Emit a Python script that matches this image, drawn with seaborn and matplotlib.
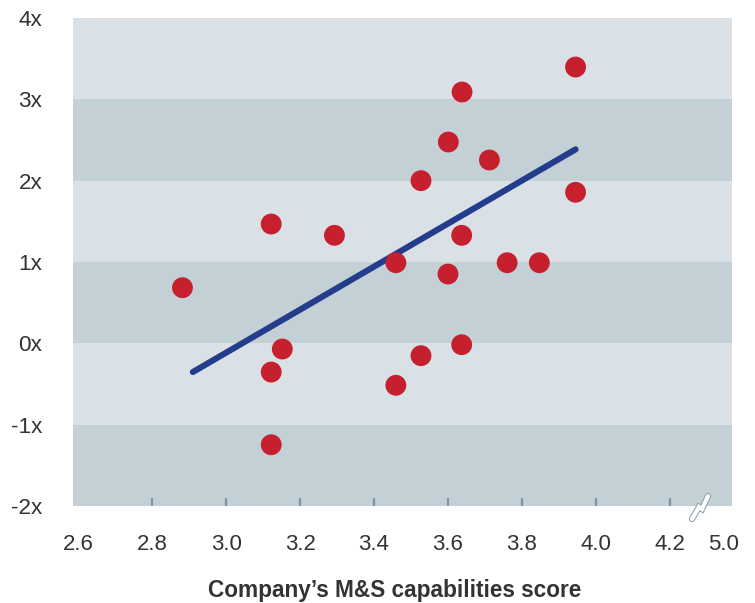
import matplotlib
matplotlib.use("Agg")
import matplotlib.pyplot as plt
import matplotlib.patheffects as pe
import seaborn as sns
import pandas as pd

# ---- data ----
capability_score = [2.882, 3.122, 3.293, 3.459, 3.637, 3.600, 3.152, 3.122, 3.527, 3.459,
                     3.637, 3.122, 3.945, 3.638, 3.601, 3.712, 3.527, 3.945, 3.760, 3.847]
multiple = [0.684, 1.467, 1.328, 0.991, 1.328, 0.852, -0.070, -0.353, -0.152, -0.516,
            -0.017, -1.247, 3.397, 3.090, 2.475, 2.254, 2.000, 1.857, 0.991, 0.991]
trend_x = [2.910, 3.945]
trend_y = [-0.353, 2.385]
x_ticks = [2.8, 3.0, 3.2, 3.4, 3.6, 3.8, 4.0, 4.2]
x_labels = ["2.6", "2.8", "3.0", "3.2", "3.4", "3.6", "3.8", "4.0", "4.2", "5.0"]
y_ticks = [-2, -1, 0, 1, 2, 3, 4]
y_labels = ["-2x", "-1x", "0x", "1x", "2x", "3x", "4x"]
x_title = "Company\u2019s M&S capabilities score"

df = pd.DataFrame({"score": capability_score, "multiple": multiple})
trend = pd.DataFrame({"score": trend_x, "multiple": trend_y})

sns.set_theme(style="white")
plt.rcParams["font.family"] = ["Liberation Sans", "DejaVu Sans"]

fig = plt.figure(figsize=(7.55, 6.03), dpi=100)
ax = fig.add_axes([73 / 755, 1 - 506 / 603, (732 - 73) / 755, (506 - 18) / 603])

light = "#d9e0e6"
dark = "#c3d0d6"
ax.set_facecolor(light)
for lo in (-2, 0, 2):
    ax.axhspan(lo, lo + 1, color=dark, lw=0, zorder=0)

sns.lineplot(data=trend, x="score", y="multiple", ax=ax, color="#233d8c", lw=4.4,
             solid_capstyle="round", zorder=2)
sns.scatterplot(data=df, x="score", y="multiple", ax=ax, color="#c61f2d", s=225,
                edgecolor="none", linewidth=0, zorder=3)

x_min, x_max = 2.586, 4.368
ax.set_xlim(x_min, x_max)
ax.set_ylim(-2, 4)

# x ticks: inner tick marks (no tick at 2.6 or 5.0)
label_pos = [2.6] + x_ticks + [4.345]
ax.set_xticks(label_pos)
ax.set_xticklabels(x_labels, fontsize=16, color="#333333")
ax.tick_params(axis="x", length=0, pad=20)
for t in x_ticks:
    ax.plot([t, t], [0, 8 / 488], transform=ax.get_xaxis_transform(), color="#7d96a6",
            lw=1.6, solid_capstyle="butt", zorder=1)

ax.set_yticks(y_ticks)
ax.set_yticklabels(y_labels, fontsize=16.2, color="#333333")
ax.tick_params(axis="y", length=0, pad=22)

ax.set_xlabel(x_title, fontsize=16.3, fontweight="bold", color="#333333")
ax.xaxis.label.set_va("center")
ax.xaxis.set_label_coords((395 - 73) / 659, (506 - 591) / 488)
ax.set_ylabel("")
for s in ax.spines.values():
    s.set_visible(False)

# axis break symbol
bx = [(692 - 73) / 659, (699 - 73) / 659, (702 - 73) / 659, (708 - 73) / 659]
by = [(506 - 519) / 488, (506 - 507) / 488, (506 - 509) / 488, (506 - 496) / 488]
ax.plot(bx, by, transform=ax.transAxes, clip_on=False, color="white", lw=3,
        solid_joinstyle="miter",
        path_effects=[pe.Stroke(linewidth=4.6, foreground="#8fa6b4"), pe.Normal()], zorder=5)

fig.savefig("out.png", dpi=100)
